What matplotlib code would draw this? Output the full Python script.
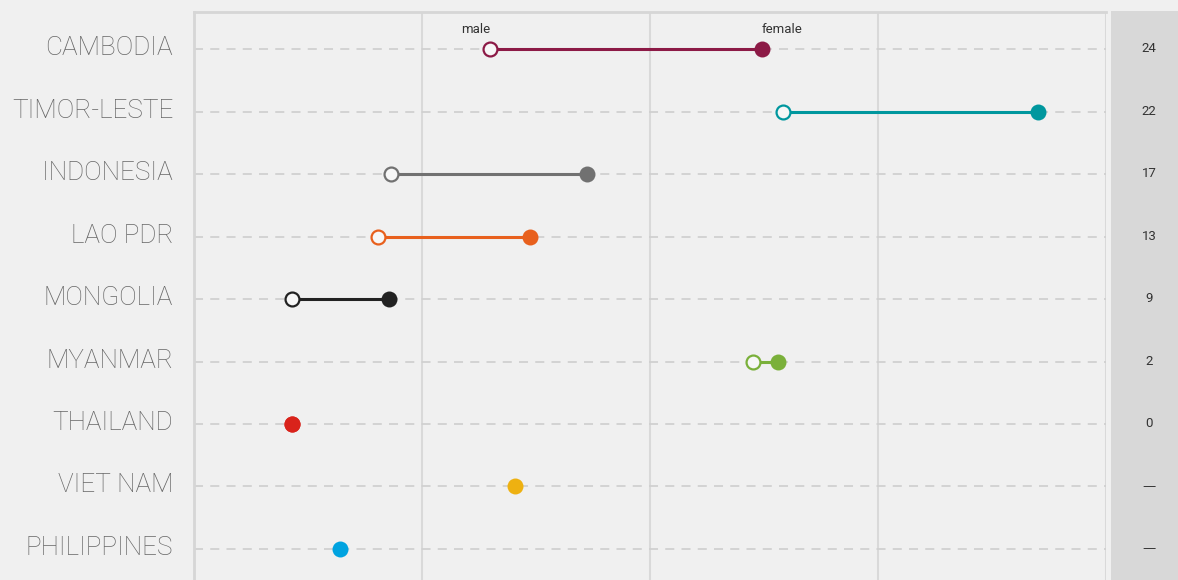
import matplotlib
matplotlib.use("Agg")
import matplotlib.pyplot as plt
import matplotlib.transforms as mtransforms
import numpy as np

countries = ["CAMBODIA", "TIMOR-LESTE", "INDONESIA", "LAO PDR", "MONGOLIA",
             "MYANMAR", "THAILAND", "VIET NAM", "PHILIPPINES"]
male = [26, 51.7, 17.3, 16.1, 8.6, 49.0, 8.6, np.nan, np.nan]
female = [49.8, 74.0, 34.5, 29.5, 17.1, 51.2, 8.6, 28.2, 12.8]
gap_labels = ["24", "22", "17", "13", "9", "2", "0", "—", "—"]
colors = ["#8C1A46", "#00979E", "#717171", "#E8601D", "#222222",
          "#7AB03A", "#D9231B", "#EEB111", "#00A3E0"]
xticks = [0, 20, 40, 60, 80]

W, H = 1178, 580
fig = plt.figure(figsize=(W / 100, H / 100), dpi=100, facecolor="#F0F0F0")

ax = fig.add_axes([194 / W, 0, (1106 - 194) / W, 1 - 12 / H])
ax.set_facecolor("#F0F0F0")
ax.set_xlim(0, 80)
ax.set_ylim(8.5, -0.6)
ax.set_xticks(xticks)
ax.set_xticklabels([])
ax.tick_params(length=0)
for s in ["bottom", "right"]:
    ax.spines[s].set_visible(False)
for s in ["top", "left"]:
    ax.spines[s].set_color("#D6D6D6")
    ax.spines[s].set_linewidth(2)
for xv in xticks[1:]:
    ax.axvline(xv, color="#D9D9D9", lw=1.5, zorder=0)

y = np.arange(len(countries))
for yi in y:
    ax.axhline(yi, color="#D0D0D0", lw=1.3, ls=(0, (5, 4)), zorder=1)

ax.set_yticks(y)
ax.set_yticklabels(countries, fontsize=18.8, color="#666666",
                   family=["Roboto", "DejaVu Sans"], fontweight="light")
ax.tick_params(axis="y", pad=15)
shift = mtransforms.ScaledTranslation(0, 3.5 / 100, fig.dpi_scale_trans)
for lbl in ax.get_yticklabels():
    lbl.set_transform(lbl.get_transform() + shift)

for i in range(len(countries)):
    m, f, c = male[i], female[i], colors[i]
    if not np.isnan(m):
        ax.plot([m, f], [i, i], color=c, lw=2.2, zorder=3, solid_capstyle="butt")
        ax.plot(m, i, "o", ms=10, mfc="#F7F7F7", mec=c, mew=1.6, zorder=4)
    ax.plot(f, i, "o", ms=11.5, mfc=c, mec=c, mew=0, zorder=5)

lab_font = ["Roboto", "DejaVu Sans"]
ax.text(male[0], -0.22, "male", ha="right", va="bottom", fontsize=9.5,
        color="#333333", family=lab_font)
ax.text(female[0], -0.22, "female", ha="left", va="bottom", fontsize=9.5,
        color="#333333", family=lab_font)

ax2 = fig.add_axes([1111 / W, 0, (W - 1111) / W, 1 - 11 / H])
ax2.set_facecolor("#D8D8D8")
ax2.set_xlim(0, 1)
ax2.set_ylim(ax.get_ylim())
for s in ax2.spines.values():
    s.set_visible(False)
ax2.set_xticks([])
ax2.set_yticks([])
for i, t in enumerate(gap_labels):
    fam = ["DejaVu Sans"] if t == "—" else lab_font
    ax2.text(0.57, i, t, ha="center", va="center", fontsize=9.5,
             color="#333333", family=fam)

fig.savefig("out.png", dpi=100, facecolor=fig.get_facecolor())
